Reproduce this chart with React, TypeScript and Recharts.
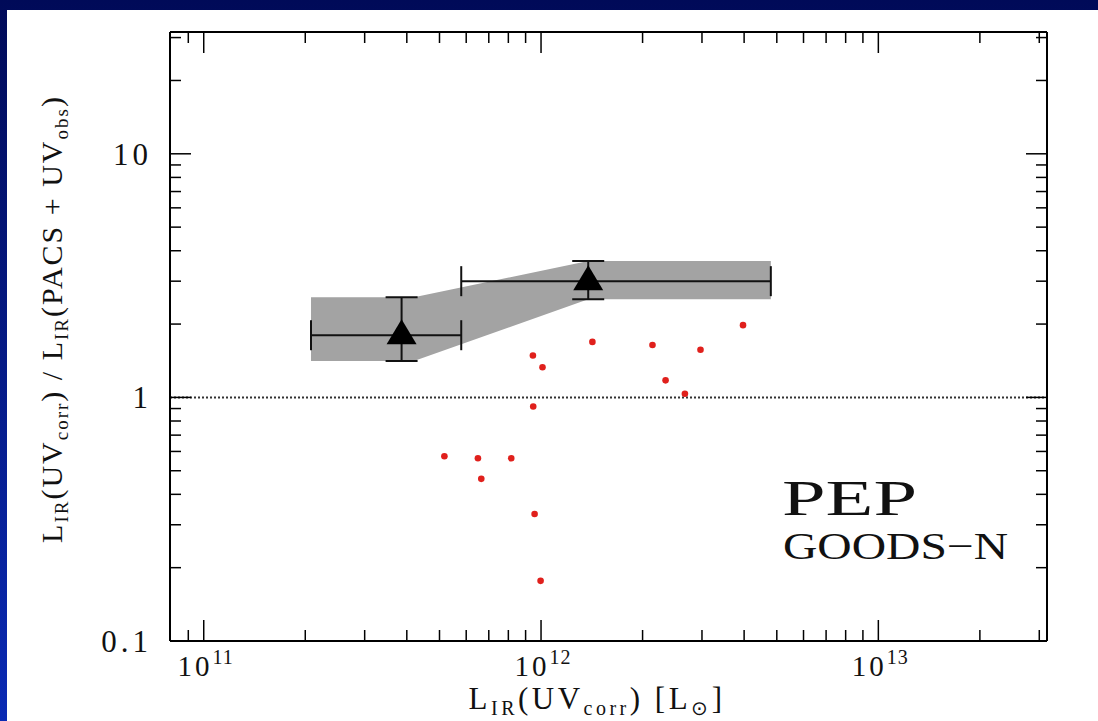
import React from 'react';
import { ComposedChart, XAxis, YAxis, Area, Scatter, ErrorBar, ReferenceLine } from 'recharts';

// axis ticks (log axes, minor + major)
const X_TICKS = [
    9e10, 1e11, 2e11, 3e11, 4e11, 5e11, 6e11, 7e11, 8e11, 9e11,
    1e12, 2e12, 3e12, 4e12, 5e12, 6e12, 7e12, 8e12, 9e12,
    1e13, 2e13, 3e13,
];
const X_MAJOR = [1e11, 1e12, 1e13];
const X_MAJOR_EXP = ['11', '12', '13'];

const Y_TICKS = [
    0.1, 0.2, 0.3, 0.4, 0.5, 0.6, 0.7, 0.8, 0.9,
    1, 2, 3, 4, 5, 6, 7, 8, 9,
    10, 20, 30,
];
const Y_MAJOR = [0.1, 1, 10];
const Y_MAJOR_LABELS = ['0.1', '1', '10'];

// grey band
const bandX = [2.08e11, 4.2e11, 1.38e12, 4.8e12];
const bandLo = [1.41, 1.41, 2.53, 2.53];
const bandHi = [2.58, 2.58, 3.63, 3.63];

// binned triangles with x/y ranges
const triX = [3.86e11, 1.38e12];
const triY = [1.8, 3.0];
const triXLo = [2.08e11, 5.8e11];
const triXHi = [5.8e11, 4.8e12];
const triYLo = [1.41, 2.53];
const triYHi = [2.58, 3.63];

// individual galaxies
const redX = [1.42e12, 2.14e12, 2.97e12, 9.46e11, 1.01e12, 2.34e12, 2.67e12, 9.48e11, 5.17e11, 6.5e11, 8.16e11, 6.65e11, 9.57e11, 9.97e11, 3.97e12];
const redY = [1.69, 1.64, 1.57, 1.485, 1.33, 1.175, 1.035, 0.918, 0.573, 0.5625, 0.5625, 0.463, 0.332, 0.1766, 1.98];

const bandData = bandX.map((x, i) => ({ x, range: [bandLo[i], bandHi[i]] }));
const triData = triX.map((x, i) => ({
    x,
    y: triY[i],
    ex: [x - triXLo[i], triXHi[i] - x],
    ey: [triY[i] - triYLo[i], triYHi[i] - triY[i]],
}));
const redData = redX.map((x, i) => ({ x, y: redY[i] }));

const FONT = '"Liberation Serif", serif';
const MAJ = 21;
const MIN = 11;

const findMajor = (list: number[], v: number) => list.findIndex(m => Math.abs(m - v) / m < 1e-6);

const BottomTick = (props: any) => {
    const { x, y, payload } = props;
    const idx = findMajor(X_MAJOR, payload.value);
    const len = idx >= 0 ? MAJ : MIN;
    return (
        <g>
            <line x1={x} x2={x} y1={y} y2={y - len} stroke="#000" strokeWidth={1.5} />
            {idx >= 0 && (
                <text x={x + 2} y={y + 35} textAnchor="middle" fontFamily={FONT} fontSize={29} fill="#111" letterSpacing={3}>
                    10<tspan dy={-12} fontSize={20} letterSpacing={1}>{X_MAJOR_EXP[idx]}</tspan>
                </text>
            )}
        </g>
    );
};

const TopTick = (props: any) => {
    const { x, y, payload } = props;
    const len = findMajor(X_MAJOR, payload.value) >= 0 ? MAJ : MIN;
    return <line x1={x} x2={x} y1={y} y2={y + len} stroke="#000" strokeWidth={1.5} />;
};

const LeftTick = (props: any) => {
    const { x, y, payload } = props;
    const idx = findMajor(Y_MAJOR, payload.value);
    const len = idx >= 0 ? MAJ : MIN;
    return (
        <g>
            <line x1={x} x2={x + len} y1={y} y2={y} stroke="#000" strokeWidth={1.5} />
            {idx >= 0 && (
                <text x={x - 18} y={y + 11} textAnchor="end" fontFamily={FONT} fontSize={31} fill="#111" letterSpacing={4}>
                    {Y_MAJOR_LABELS[idx]}
                </text>
            )}
        </g>
    );
};

const RightTick = (props: any) => {
    const { x, y, payload } = props;
    const len = findMajor(Y_MAJOR, payload.value) >= 0 ? MAJ : MIN;
    return <line x1={x} x2={x - len} y1={y} y2={y} stroke="#000" strokeWidth={1.5} />;
};

const Triangle = (props: any) => {
    const { cx, cy } = props;
    return <polygon points={`${cx},${cy - 16} ${cx + 15},${cy + 9} ${cx - 15},${cy + 9}`} fill="#000" />;
};

const RedDot = (props: any) => <circle cx={props.cx} cy={props.cy} r={3.3} fill="#e0201c" />;

const X_DOMAIN = [Math.pow(10, 10.9), Math.pow(10, 13.5)];
const Y_DOMAIN = [0.1, Math.pow(10, 1.5)];

export default function App() {
    return (
        <div style={{ position: 'absolute', left: 0, top: 0, width: 1098, height: 721, background: 'linear-gradient(180deg, #000a58 0%, #0a2ab4 100%)', overflow: 'hidden' }}>
            <style>{`body { margin: 0; }`}</style>
            <div style={{ position: 'absolute', left: 7, top: 10, right: 0, bottom: 0, background: '#fff' }} />
            <div style={{ position: 'absolute', left: 0, top: 0 }}>
                <ComposedChart width={1098} height={721} data={bandData} margin={{ top: 30, right: 50, bottom: 20, left: 70 }}>
                    <XAxis
                        dataKey="x"
                        type="number"
                        scale="log"
                        domain={X_DOMAIN}
                        allowDataOverflow
                        ticks={X_TICKS}
                        interval={0}
                        height={60}
                        tickSize={0}
                        tickMargin={0}
                        tickLine={false}
                        tick={<BottomTick />}
                        axisLine={{ stroke: '#000', strokeWidth: 2 }}
                    />
                    <XAxis
                        xAxisId="top"
                        orientation="top"
                        dataKey="x"
                        type="number"
                        scale="log"
                        domain={X_DOMAIN}
                        allowDataOverflow
                        ticks={X_TICKS}
                        interval={0}
                        height={2}
                        tickSize={0}
                        tickMargin={0}
                        tickLine={false}
                        tick={<TopTick />}
                        axisLine={{ stroke: '#000', strokeWidth: 2 }}
                    />
                    <YAxis
                        dataKey="y"
                        type="number"
                        scale="log"
                        domain={Y_DOMAIN}
                        allowDataOverflow
                        ticks={Y_TICKS}
                        interval={0}
                        width={100}
                        tickSize={0}
                        tickMargin={0}
                        tickLine={false}
                        tick={<LeftTick />}
                        axisLine={{ stroke: '#000', strokeWidth: 2 }}
                    />
                    <YAxis
                        yAxisId="right"
                        orientation="right"
                        type="number"
                        scale="log"
                        domain={Y_DOMAIN}
                        allowDataOverflow
                        ticks={Y_TICKS}
                        interval={0}
                        width={1}
                        tickSize={0}
                        tickMargin={0}
                        tickLine={false}
                        tick={<RightTick />}
                        axisLine={{ stroke: '#000', strokeWidth: 2 }}
                    />
                    <Area
                        type="linear"
                        dataKey="range"
                        fill="#a3a3a3"
                        fillOpacity={1}
                        stroke="none"
                        isAnimationActive={false}
                        activeDot={false}
                        dot={false}
                    />
                    <ReferenceLine y={1} stroke="#333" strokeWidth={2} strokeDasharray="2 2" />
                    <Scatter data={redData} shape={<RedDot />} isAnimationActive={false} />
                    <Scatter data={triData} shape={<Triangle />} isAnimationActive={false}>
                        <ErrorBar dataKey="ex" direction="x" width={15} stroke="#111" strokeWidth={2} isAnimationActive={false} />
                        <ErrorBar dataKey="ey" direction="y" width={16} stroke="#111" strokeWidth={2} isAnimationActive={false} />
                    </Scatter>
                </ComposedChart>
            </div>
            <svg width={1098} height={721} style={{ position: 'absolute', left: 0, top: 0, pointerEvents: 'none' }}>
                <text transform="translate(62,319) rotate(-90)" textAnchor="middle" fontFamily={FONT} fontSize={30} fill="#111" letterSpacing={2}>
                    L<tspan fontSize={19} dy={6}>IR</tspan><tspan dy={-6}>(UV</tspan><tspan fontSize={19} dy={6}>corr</tspan><tspan dy={-6}>) / L</tspan><tspan fontSize={19} dy={6}>IR</tspan><tspan dy={-6}>(PACS + UV</tspan><tspan fontSize={19} dy={6}>obs</tspan><tspan dy={-6}>)</tspan>
                </text>
                <text x={597} y={709} textAnchor="middle" fontFamily={FONT} fontSize={31} fill="#111" letterSpacing={3.5}>
                    L<tspan fontSize={20} dy={6}>IR</tspan><tspan dy={-6}>(UV</tspan><tspan fontSize={20} dy={6}>corr</tspan><tspan dy={-6}>)  [L</tspan><tspan fontSize={20} dy={6}>⊙</tspan><tspan dy={-6}>]</tspan>
                </text>
                <text x={782} y={515} fontFamily={FONT} fontSize={51} fill="#111" textLength={135} lengthAdjust="spacingAndGlyphs">PEP</text>
                <text x={783} y={559} fontFamily={FONT} fontSize={38} fill="#111" textLength={225} lengthAdjust="spacingAndGlyphs">GOODS−N</text>
            </svg>
        </div>
    );
}
